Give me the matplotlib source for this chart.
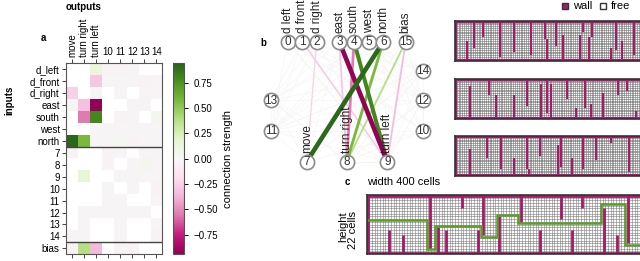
import numpy as np
import matplotlib
matplotlib.use("Agg")
import matplotlib.pyplot as plt
from matplotlib.colors import Normalize
from matplotlib.lines import Line2D

plt.rcParams['font.family'] = ['Liberation Sans', 'DejaVu Sans']

N = np.nan
# connection matrix (rows = inputs, cols = outputs), nan = no connection
in_names = ['d_left', 'd_front', 'd_right', 'east', 'south', 'west', 'north',
            '7', '8', '9', '10', '11', '12', '13', '14', 'bias']
out_names = ['move', 'turn right', 'turn left', '10', '11', '12', '13', '14']
W = np.array([
    [N, N, 0.12, -0.03, -0.03, -0.02, N, N],
    [N, N, -0.30, -0.02, -0.02, -0.02, -0.04, -0.02],
    [-0.25, N, -0.02, N, -0.02, N, -0.02, -0.02],
    [-0.02, -0.32, -0.92, N, N, -0.02, -0.02, N],
    [N, -0.55, 0.80, N, -0.03, -0.02, N, 0.04],
    [N, N, -0.02, -0.02, -0.02, -0.02, -0.02, -0.02],
    [0.92, 0.58, -0.02, -0.02, 0.03, -0.03, -0.02, -0.02],
    [-0.03, N, N, -0.03, -0.02, N, -0.02, -0.02],
    [N, N, N, -0.04, N, -0.02, 0.05, -0.02],
    [N, 0.15, N, N, -0.02, -0.02, -0.02, -0.02],
    [N, N, N, -0.02, N, -0.02, N, -0.04],
    [N, N, N, -0.02, -0.02, N, N, -0.02],
    [N, -0.02, -0.02, -0.02, -0.02, -0.02, -0.02, N],
    [N, -0.02, N, N, -0.02, N, N, -0.02],
    [-0.02, -0.02, N, N, -0.02, N, N, -0.03],
    [-0.03, 0.38, -0.35, N, -0.03, -0.03, N, N],
])
cb_ticks = [0.75, 0.50, 0.25, 0.00, -0.25, -0.50, -0.75]

# network graph
node_ids = list(range(16))
node_x = [287.7, 302.3, 316.7, 339.3, 354, 369, 383.3, 306.7, 346.7, 387.3,
          422.7, 271, 422.7, 271, 422.7, 405.7]
node_y = [41.7] * 7 + [161.7] * 3 + [130.7, 130.7, 100, 100, 70.7, 41.7]
src_nodes = list(range(15)) + [15]
dst_nodes = [7, 8, 9, 10, 11, 12, 13, 14]
node_labels = {0: 'd left', 1: 'd front', 2: 'd right', 3: 'east', 4: 'south',
               5: 'west', 6: 'north', 15: 'bias',
               7: 'move', 8: 'turn right', 9: 'turn left'}

# mazes: 22 rows, walls as (col, first row, last row)
n_rows = 22
n_cols = 103
maze1_walls = [(6, 11, 21), (10, 0, 14), (15, 0, 8), (24, 0, 19), (32, 0, 16),
               (41, 0, 18), (49, 0, 9), (50, 10, 21), (55, 0, 13), (59, 8, 21),
               (68, 8, 21), (70, 0, 5), (73, 9, 21), (75, 0, 8), (85, 15, 21),
               (88, 0, 15), (91, 11, 21), (98, 0, 18)]
maze2_walls = [(8, 4, 21), (18, 0, 8), (22, 9, 21), (32, 9, 21), (39, 0, 14),
               (47, 3, 21), (50, 0, 18), (52, 3, 21), (61, 0, 10), (66, 16, 21),
               (71, 0, 15), (74, 14, 21), (81, 8, 21), (89, 0, 8), (94, 0, 6),
               (99, 18, 21)]
maze3_walls = [(8, 7, 21), (17, 0, 11), (25, 0, 17), (32, 12, 21), (39, 0, 17),
               (40, 18, 21), (46, 0, 10), (56, 5, 21), (58, 0, 16), (64, 12, 21),
               (70, 0, 17), (77, 0, 12), (85, 0, 3), (95, 0, 19)]
big_walls = [(8, 13, 21), (13, 15, 21), (23, 0, 19), (26, 12, 21), (29, 13, 21),
             (35, 0, 4), (41, 13, 21), (43, 0, 14), (49, 8, 21), (57, 0, 9),
             (64, 13, 21), (72, 0, 8), (76, 13, 21), (80, 0, 4), (88, 5, 21),
             (93, 15, 21), (97, 0, 17)]
path_x = [0, 22.5, 22.5, 25.5, 25.5, 42.5, 42.5, 48.5, 48.5, 56.5, 56.5, 87.5,
          87.5, 96.5, 96.5, 103]
path_y = [9.5, 9.5, 20.3, 20.3, 11.5, 11.5, 15.5, 15.5, 7.5, 7.5, 10.5, 10.5,
          3.5, 3.5, 18.5, 18.5]

wall_col = '#a8196a'
W_PX, H_PX = 640, 261


def fpos(x0, y0, x1, y1):
    return [x0 / W_PX, 1 - y1 / H_PX, (x1 - x0) / W_PX, (y1 - y0) / H_PX]


fig = plt.figure(figsize=(6.4, 2.61), dpi=100)

# ---- panel a
cmap = plt.get_cmap('PiYG').copy()
cmap.set_bad('white')
norm = Normalize(-0.94, 0.94)
ax = fig.add_axes(fpos(66, 63.3, 162.3, 254.3))
im = ax.imshow(np.ma.masked_invalid(W), cmap=cmap, norm=norm, aspect='auto')
ax.set_xticks(range(len(out_names)))
ax.set_xticklabels(out_names, fontsize=7)
ax.set_yticks(range(len(in_names)))
ax.set_yticklabels(in_names, fontsize=7)
ax.tick_params(top=True, bottom=True, labeltop=True, labelbottom=False,
               length=3, width=0.7, color='#444', pad=1.5)
for t in ax.xaxis.get_major_ticks()[:3]:
    t.label2.set_rotation(90)
ax.axhline(6.5, color='#444', lw=1)
ax.axhline(14.5, color='#444', lw=1)
for s in ax.spines.values():
    s.set_color('#555')
    s.set_linewidth(0.8)

cax = fig.add_axes(fpos(173.3, 63.3, 184.3, 254))
cb = fig.colorbar(im, cax=cax)
cb.set_ticks(cb_ticks)
cb.ax.tick_params(labelsize=7, length=3, width=0.7)
cb.set_label('connection strength', fontsize=8, labelpad=4)
cb.outline.set_edgecolor('#555')
cb.outline.set_linewidth(0.8)

fig.text(43 / W_PX, 1 - 38 / H_PX, 'a', weight='bold', fontsize=7, ha='center', va='center')
fig.text(84 / W_PX, 1 - 7 / H_PX, 'outputs', weight='bold', fontsize=7, ha='center', va='center')
fig.text(9 / W_PX, 1 - 100 / H_PX, 'inputs', weight='bold', fontsize=7,
         rotation=90, ha='center', va='center')

# ---- panel b
axb = fig.add_axes(fpos(255, 0, 440, 180))
axb.set_xlim(255, 440)
axb.set_ylim(180, 0)
axb.axis('off')
edges = []
for r in range(W.shape[0]):
    for c in range(W.shape[1]):
        w = W[r, c]
        a, b = src_nodes[r], dst_nodes[c]
        if np.isnan(w) or a == b:
            continue
        edges.append((abs(w), w, a, b))
edges.sort()
for aw, w, a, b in edges:
    axb.plot([node_x[a], node_x[b]], [node_y[a], node_y[b]],
             color=cmap(norm(w)), lw=max(aw * 3.6, 0.5), solid_capstyle='butt', zorder=1)
axb.scatter(node_x, node_y, s=105, facecolor='white', edgecolor='#8c8c8c',
            linewidth=1.2, zorder=3)
for i in node_ids:
    axb.text(node_x[i], node_y[i] + 0.5, str(i), fontsize=8.5, color='#333',
             ha='center', va='center', zorder=4)
for i, lab in node_labels.items():
    axb.text(node_x[i], node_y[i] - 8.5, lab, fontsize=8.5, color='#222',
             rotation=90, ha='center', va='bottom', zorder=4)
fig.text(263 / W_PX, 1 - 43 / H_PX, 'b', weight='bold', fontsize=7, ha='center', va='center')


# ---- panel c
def draw_maze(pos, walls, path=None, grid_lw=0.4, grid_col='#6e6e6e', wall_lw=1.5):
    axm = fig.add_axes(pos)
    axm.vlines(np.arange(n_cols + 1), 0, n_rows, color=grid_col, lw=grid_lw, zorder=2)
    axm.hlines(np.arange(n_rows + 1), 0, n_cols, color=grid_col, lw=grid_lw, zorder=2)
    # outer wall rows / column
    axm.hlines([0.5, n_rows - 0.5], 0, n_cols, color=wall_col, lw=wall_lw, zorder=3)
    axm.vlines(0.5, 0, n_rows, color=wall_col, lw=wall_lw, zorder=3)
    cols = [w[0] + 0.5 for w in walls]
    tops = [w[1] for w in walls]
    bots = [w[2] + 1 for w in walls]
    axm.vlines(cols, tops, bots, color=wall_col, lw=wall_lw, zorder=3)
    if path is not None:
        axm.plot(path[0], path[1], color='#5a9e2c', lw=1.8, solid_joinstyle='miter', zorder=4)
    axm.set_xlim(0, n_cols)
    axm.set_ylim(n_rows, 0)
    axm.set_xticks([])
    axm.set_yticks([])
    for s in axm.spines.values():
        s.set_color('#333')
        s.set_linewidth(1.2)
        s.set_zorder(5)
    return axm


cs, cb_ = 1.82, 2.68
draw_maze(fpos(455, 20.7, 455 + n_cols * cs, 60.7), maze1_walls)
draw_maze(fpos(455, 78.7, 455 + n_cols * cs, 118.7), maze2_walls)
draw_maze(fpos(455, 136, 455 + n_cols * cs, 176), maze3_walls)
draw_maze(fpos(366.7, 195, 366.7 + n_cols * cb_, 254), big_walls, (path_x, path_y),
          grid_col='#7a7a7a', wall_lw=2.0)

handles = [Line2D([], [], marker='s', ls='', markerfacecolor=wall_col,
                  markeredgecolor='#333', markersize=5),
           Line2D([], [], marker='s', ls='', markerfacecolor='white',
                  markeredgecolor='#333', markersize=5)]
fig.legend(handles, ['wall', 'free'], loc='upper right', bbox_to_anchor=(0.995, 1.02),
           ncol=2, frameon=False, fontsize=8, handlelength=0.8, handletextpad=0.3,
           columnspacing=0.6, borderaxespad=0.2)

fig.text(347 / W_PX, 1 - 182 / H_PX, 'c', weight='bold', fontsize=7, ha='center', va='center')
fig.text(367 / W_PX, 1 - 182 / H_PX, 'width 400 cells', fontsize=8, ha='left', va='center')
fig.text(348 / W_PX, 1 - 211 / H_PX, 'height\n22 cells', fontsize=8, rotation=90,
         ha='center', va='top', multialignment='right', linespacing=1.0)

fig.savefig('out.png', dpi=100)
